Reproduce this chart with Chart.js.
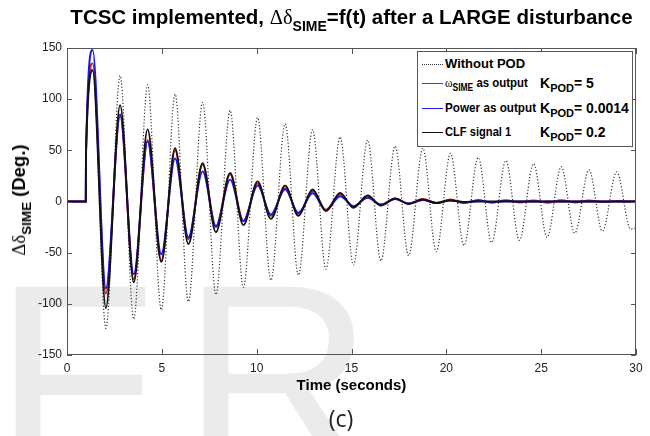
<!DOCTYPE html>
<html>
<head>
<meta charset="utf-8">
<script src="https://cdn.jsdelivr.net/npm/chart.js@4.4.1/dist/chart.umd.min.js"></script>
<style>
  body { margin: 0; background: #fff; }
  #wrap { position: relative; width: 650px; height: 436px; overflow: hidden; font-family: "Liberation Sans", Arial, sans-serif; }
  .wm { position: absolute; color: #ebebeb; font-family: "Liberation Sans", Arial, sans-serif; font-size: 265px; line-height: 265px; z-index: 0; }
  #chart { position: absolute; left: 0; top: 0; z-index: 1; }
  .txt { position: absolute; z-index: 2; color: #000; white-space: nowrap; font-weight: bold; }
  .sym { font-family: "Liberation Serif", "DejaVu Serif", serif; font-weight: normal; }
  sub { position: relative; vertical-align: baseline; }
  #title { left: 67px; width: 569px; top: 5px; text-align: center; font-size: 20.5px; line-height: 24px; }
  #title sub { font-size: 14px; top: 7px; }
  #ylab { left: 20px; top: 200px; font-size: 18.5px; line-height: 20px; transform: translate(-50%, -50%) rotate(-90deg); }
  #ylab sub { font-size: 13.5px; top: 6px; }
  #xlab { left: 67px; width: 569px; top: 376px; text-align: center; font-size: 15px; line-height: 18px; }
  #cap { left: 300px; width: 82px; top: 405px; text-align: center; font-size: 23px; line-height: 26px; font-weight: normal; color: #222; font-family: "Open Sans", "Liberation Sans", sans-serif; }
  #legend { position: absolute; z-index: 2; left: 417px; top: 51px; width: 214px; height: 94px; background: #fff; border: 1px solid #555; }
  .row { position: absolute; font-size: 13.5px; line-height: 16px; font-weight: bold; white-space: nowrap; transform-origin: 0 50%; }
  .row sub { font-size: 10px; top: 4px; }
  .row.k { font-size: 14px; }
  .row.k sub { font-size: 11px; top: 4px; }
  .sw { position: absolute; width: 21px; height: 0; }
</style>
</head>
<body>
<div id="wrap">
  <div class="wm" style="left:-6px; top:245px;">F</div>
  <div class="wm" style="left:182px; top:245px;">R</div>
  <canvas id="chart" width="650" height="436"></canvas>
  <div id="title" class="txt">TCSC implemented, <span class="sym">&Delta;&delta;</span><sub>SIME</sub>=f(t) after a LARGE disturbance</div>
  <div id="ylab" class="txt"><span class="sym">&Delta;&delta;</span><sub>SIME</sub> (Deg.)</div>
  <div id="xlab" class="txt">Time (seconds)</div>
  <div id="cap" class="txt">(c)</div>
  <div id="legend"></div>
</div>
<script>
// extrema of the oscillations (s)
var timeS = [0, 0.99, 1.0, 1.35, 2.05, 2.80, 3.52, 4.25, 4.97, 5.70, 6.40, 7.15, 7.85, 8.60, 9.30,
  10.05, 10.75, 11.50, 12.20, 12.95, 13.65, 14.40, 15.10, 15.85, 16.55, 17.30, 18.01, 18.76, 19.47,
  20.22, 20.93, 21.68, 22.39, 23.14, 23.85, 24.60, 25.31, 26.06, 26.77, 27.52, 28.23, 28.98, 29.72, 30];

var noPod = [0, 0, 45, 130, -124, 123, -115, 114, -106, 105, -98, 97, -91, 89, -84, 82, -77, 76, -72,
  70, -66, 63, -62, 60, -58, 54, -53, 52, -49, 47, -43, 43, -40, 40, -38, 37, -35, 34, -31, 31, -29, 29, -27, -26];

var omegaSime = [0, 0, 45, 135, -90, 84, -76, 60, -58, 50, -37, 36, -25, 26.5, -19, 17.5, -14, 13, -12,
  10, -8, 7, -5, 4, -3, 3, -2, 2.5, -1.5, 2, -1.5, 1.5, -1.2, 1.2, -1, 1, -1.2, 1.2, -1, 1, -0.5, 0.5, 0, 0];

var powerOut = [0, 0, 45, 148, -85, 85, -71, 58.5, -51.5, 42, -35, 29.4, -24, 21.4, -19, 15.5, -12.6, 12, -11,
  8, -8.7, 5.2, -4.5, 3.6, -3, 2.5, -2, 1.5, -1.5, 1.2, -1, 0.8, -0.6, 0.5, 0, 0, 0, 0, 0, 0, 0, 0, 0, 0];

var clfSignal = [0, 0, 45, 128, -104, 94, -79, 70.5, -59, 52, -41.7, 37.5, -30, 28, -23, 19.7, -17, 15.5, -14,
  11.7, -9.4, 8.4, -6.1, 5.8, -3.9, 3, -2.5, 2, -1.5, 1, -0.5, 0, 0, 0, 0, 0, 0, 0, 0, 0, 0, 0, 0, 0];

var xTicks = [0, 5, 10, 15, 20, 25, 30];
var yTicks = [-150, -100, -50, 0, 50, 100, 150];

var seriesNames = ['Without POD', 'ωSIME as output KPOD= 5', 'Power as output KPOD= 0.0014', 'CLF signal 1 KPOD= 0.2'];
var seriesHtml = [
  ['Without POD', ''],
  ['<span class="sym">&omega;</span><sub>SIME</sub> as output', 'K<sub>POD</sub>= 5'],
  ['Power as output', 'K<sub>POD</sub>= 0.0014'],
  ['CLF signal 1', 'K<sub>POD</sub>= 0.2']
];
var seriesColors = ['#333', 'rgb(225,20,20)', 'rgb(25,25,235)', '#111'];
// legend text widths in the figure (px)
var legendTextW = [80, 83, 91, 66];

function pts(vals) {
  return timeS.map(function (t, i) { return { x: t, y: vals[i] }; });
}

// matlab style box with inward ticks on all four sides
var matlabBox = {
  id: 'matlabBox',
  afterDatasetsDraw: function (chart) {
    var ctx = chart.ctx, a = chart.chartArea, x = chart.scales.x, y = chart.scales.y;
    ctx.save();
    ctx.strokeStyle = '#555';
    ctx.lineWidth = 1;
    ctx.strokeRect(Math.round(a.left) + 0.5, Math.round(a.top) + 0.5, Math.round(a.right - a.left) - 1, Math.round(a.bottom - a.top) - 1);
    ctx.beginPath();
    xTicks.forEach(function (v) {
      var px = Math.round(x.getPixelForValue(v)) + 0.5;
      ctx.moveTo(px, a.bottom); ctx.lineTo(px, a.bottom - 6);
      ctx.moveTo(px, a.top); ctx.lineTo(px, a.top + 6);
    });
    yTicks.forEach(function (v) {
      var py = Math.round(y.getPixelForValue(v)) + 0.5;
      ctx.moveTo(a.left, py); ctx.lineTo(a.left + 5, py);
      ctx.moveTo(a.right, py); ctx.lineTo(a.right - 5, py);
    });
    ctx.stroke();
    ctx.restore();
  }
};

var ctx = document.getElementById('chart').getContext('2d');
var myChart = new Chart(ctx, {
  type: 'line',
  data: {
    datasets: [
      { label: seriesNames[0], data: pts(noPod), borderColor: seriesColors[0], borderWidth: 1.2, borderDash: [1.2, 2], order: 3 },
      { label: seriesNames[1], data: pts(omegaSime), borderColor: seriesColors[1], borderWidth: 1.9, order: 2 },
      { label: seriesNames[2], data: pts(powerOut), borderColor: seriesColors[2], borderWidth: 1.9, order: 1 },
      { label: seriesNames[3], data: pts(clfSignal), borderColor: seriesColors[3], borderWidth: 1.9, order: 0 }
    ]
  },
  options: {
    responsive: false,
    animation: false,
    elements: { point: { radius: 0 }, line: { cubicInterpolationMode: 'monotone' } },
    layout: { padding: { top: 48, right: 14, left: 0, bottom: 0 } },
    plugins: { legend: { display: false }, title: { display: false }, tooltip: { enabled: false } },
    scales: {
      x: {
        type: 'linear', min: 0, max: 30,
        grid: { display: false, drawTicks: false }, border: { display: false },
        afterBuildTicks: function (s) { s.ticks = xTicks.map(function (v) { return { value: v }; }); },
        afterFit: function (s) { s.height = 81; },
        ticks: { padding: 6, color: '#222', font: { family: 'Liberation Sans', size: 12 }, maxRotation: 0 }
      },
      y: {
        min: -150, max: 150,
        grid: { display: false, drawTicks: false }, border: { display: false },
        afterBuildTicks: function (s) { s.ticks = yTicks.map(function (v) { return { value: v }; }); },
        afterFit: function (s) { s.width = 67; },
        ticks: { padding: 5, color: '#222', font: { family: 'Liberation Sans', size: 12 } }
      }
    }
  },
  plugins: [matlabBox]
});

// legend with subscripts, colours taken from the datasets
var leg = document.getElementById('legend');
var rowY = [11, 30, 55, 79];
myChart.data.datasets.forEach(function (ds, i) {
  var sw = document.createElement('div');
  sw.className = 'sw';
  sw.style.left = '4px';
  sw.style.top = (rowY[i] + 1) + 'px';
  sw.style.borderTop = (i === 0 ? '1px dotted ' : '1.6px solid ') + ds.borderColor;
  leg.appendChild(sw);
  var a = document.createElement('div');
  a.className = 'row';
  a.style.left = '27px';
  a.style.top = (rowY[i] - 7) + 'px';
  a.innerHTML = seriesHtml[i][0];
  leg.appendChild(a);
  var sc = Math.max(0.8, Math.min(1.1, legendTextW[i] / a.offsetWidth));
  a.style.transform = 'scaleX(' + sc.toFixed(3) + ')';
  if (seriesHtml[i][1]) {
    var b = document.createElement('div');
    b.className = 'row k';
    b.style.left = '122px';
    b.style.top = (rowY[i] - 7) + 'px';
    b.innerHTML = seriesHtml[i][1];
    leg.appendChild(b);
  }
});
</script>
</body>
</html>
